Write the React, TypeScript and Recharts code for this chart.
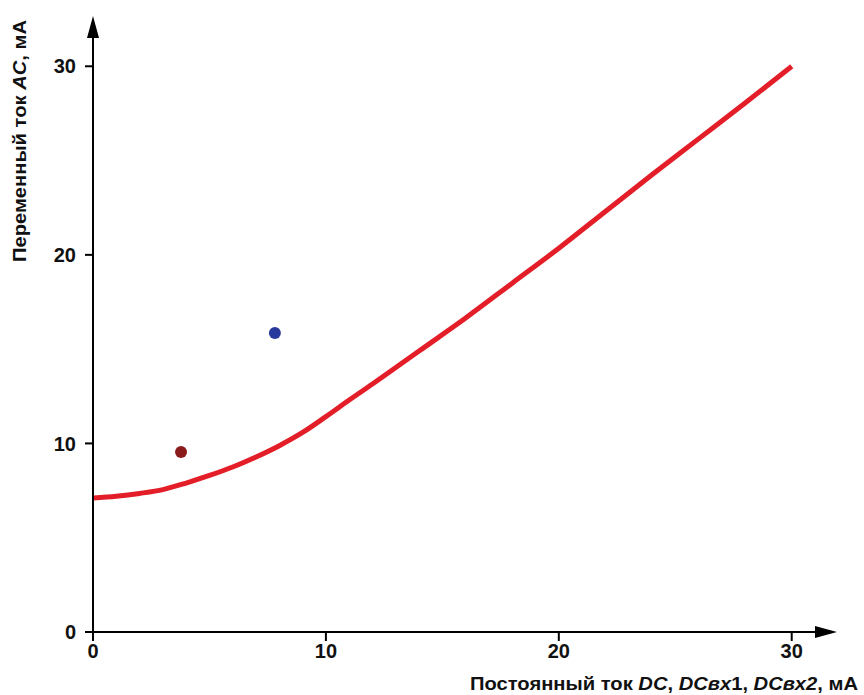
import React from 'react';
import { ComposedChart, Line, Scatter, XAxis, YAxis, ReferenceDot } from 'recharts';

const curveX = [0, 1, 2, 3, 4, 5, 6, 7, 8, 9, 10, 11, 12, 14, 16, 18, 20, 22, 24, 26, 28, 30];
const curveY = [7.1, 7.2, 7.35, 7.55, 7.9, 8.3, 8.75, 9.28, 9.88, 10.58, 11.42, 12.3, 13.15, 14.9, 16.65, 18.5, 20.35, 22.3, 24.25, 26.15, 28.05, 30.0];
const pointRed = [{ x: 3.78, y: 9.54 }];
const pointBlue = [{ x: 7.81, y: 15.85 }];
const xTicks = [0, 10, 20, 30];
const yTicks = [0, 10, 20, 30];
const xMax = 31;
const yMax = 31.5;

const curve = curveX.map((x, i) => ({ x, y: curveY[i] }));

const FONT = '"Liberation Sans", Arial, sans-serif';

const XArrow = (p: any) => (
  <polygon points={`${p.cx},${p.cy - 6} ${p.cx + 22},${p.cy} ${p.cx},${p.cy + 6}`} fill="#000" />
);
const YArrow = (p: any) => (
  <polygon points={`${p.cx - 6},${p.cy} ${p.cx},${p.cy - 22} ${p.cx + 6},${p.cy}`} fill="#000" />
);

const XTitle = (props: any) => {
  const vb = props.viewBox || {};
  return (
    <text x={vb.x + vb.width + 43} y={vb.y + 58} textAnchor="end" fontFamily={FONT} fontSize={18} fontWeight="bold" fill="#111" textLength={388} lengthAdjust="spacingAndGlyphs">
      <tspan>Постоянный ток </tspan>
      <tspan fontStyle="italic">DC</tspan>
      <tspan>, </tspan>
      <tspan fontStyle="italic">DCвх</tspan>
      <tspan>1, </tspan>
      <tspan fontStyle="italic">DCвх2</tspan>
      <tspan>, мА</tspan>
    </text>
  );
};

const YTitle = (props: any) => {
  const vb = props.viewBox || {};
  const x = vb.x + 26;
  const y = vb.y + 103;
  return (
    <text x={x} y={y} transform={`rotate(-90 ${x} ${y})`} textAnchor="middle" fontFamily={FONT} fontSize={18} fontWeight="bold" fill="#111" textLength={242} lengthAdjust="spacingAndGlyphs">
      <tspan>Переменный ток </tspan>
      <tspan fontStyle="italic">AC</tspan>
      <tspan>, мА</tspan>
    </text>
  );
};

const Dot = (color: string) => (p: any) => <circle cx={p.cx} cy={p.cy} r={6} fill={color} />;

export default function App() {
  return (
    <div style={{ position: 'absolute', left: 0, top: 0, width: 864, height: 695, background: '#fff' }}>
      <ComposedChart width={864} height={695} data={curve} margin={{ top: 38, right: 49, left: 0, bottom: 0 }}>
        <XAxis
          type="number"
          dataKey="x"
          domain={[0, xMax]}
          ticks={xTicks}
          allowDataOverflow
          tickSize={9}
          tickMargin={3}
          height={63}
          axisLine={{ stroke: '#000', strokeWidth: 2 }}
          tickLine={{ stroke: '#000', strokeWidth: 2 }}
          tick={{ fill: '#111', fontSize: 20, fontWeight: 'bold', fontFamily: FONT }}
          label={{ content: XTitle }}
        />
        <YAxis
          type="number"
          dataKey="y"
          domain={[0, yMax]}
          ticks={yTicks}
          allowDataOverflow
          width={93}
          tickSize={8}
          tickMargin={9}
          axisLine={{ stroke: '#000', strokeWidth: 2 }}
          tickLine={{ stroke: '#000', strokeWidth: 2 }}
          tick={{ fill: '#111', fontSize: 20, fontWeight: 'bold', fontFamily: FONT }}
          label={{ content: YTitle }}
        />
        <Line type="monotone" dataKey="y" stroke="#e31e28" strokeWidth={5} dot={false} isAnimationActive={false} />
        <Scatter data={pointRed} dataKey="y" fill="#8b1a1c" shape={Dot('#8b1a1c')} isAnimationActive={false} />
        <Scatter data={pointBlue} dataKey="y" fill="#2a3a9c" shape={Dot('#2a3a9c')} isAnimationActive={false} />
        <ReferenceDot x={xMax} y={0} ifOverflow="visible" shape={XArrow} />
        <ReferenceDot x={0} y={yMax} ifOverflow="visible" shape={YArrow} />
      </ComposedChart>
    </div>
  );
}
